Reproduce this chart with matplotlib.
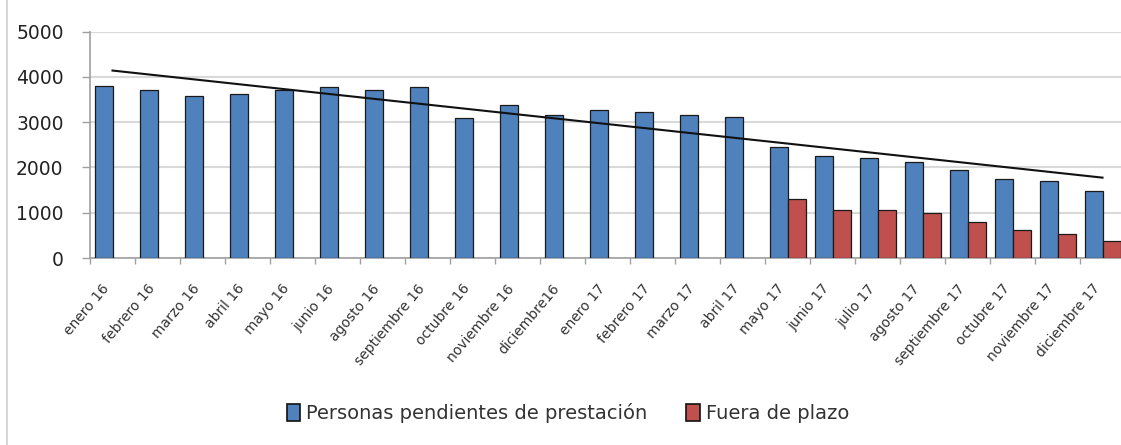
import numpy as np
import matplotlib
matplotlib.use("Agg")
import matplotlib.pyplot as plt
from matplotlib.patches import Patch
from matplotlib.lines import Line2D

categories = ["enero 16", "febrero 16", "marzo 16", "abril 16", "mayo 16", "junio 16",
              "agosto 16", "septiembre 16", "octubre 16", "noviembre 16", "diciembre16",
              "enero 17", "febrero 17", "marzo 17", "abril 17", "mayo 17", "junio 17",
              "julio 17", "agosto 17", "septiembre 17", "octubre 17", "noviembre 17",
              "diciembre 17"]
pendientes = [3803, 3708, 3583, 3620, 3700, 3767, 3708, 3767, 3091, 3385, 3164,
              3275, 3231, 3157, 3120, 2445, 2254, 2210, 2129, 1946, 1747, 1689, 1490]
fuera_plazo = [0, 0, 0, 0, 0, 0, 0, 0, 0, 0, 0,
               0, 0, 0, 0, 1292, 1065, 1065, 991, 793, 609, 521, 374]
yticks = [0, 1000, 2000, 3000, 4000, 5000]

blue = "#4F81BD"
red = "#C0504D"

fig = plt.figure(figsize=(11.21, 4.45), dpi=100)
W, H = 1121, 445
ax = fig.add_axes([90 / W, (H - 258) / H, (1125 - 90) / W, (258 - 31.5) / H])

x = np.arange(len(categories))
w = 0.4
vals_red = np.array(fuera_plazo, dtype=float)
ax.bar(x - 0.18, pendientes, width=w, color=blue, edgecolor="#1a1a1a", linewidth=0.9, zorder=3)
mask = vals_red > 0
ax.bar(x[mask] + 0.22, vals_red[mask], width=w, color=red, edgecolor="#1a1a1a", linewidth=0.9, zorder=3)

# linear trend line of the pending series
coef = np.polyfit(x, pendientes, 1)
ax.plot(x, np.polyval(coef, x), color="#111111", lw=1.5, zorder=4)

ax.set_xlim(-0.5, len(categories) - 0.5)
ax.set_ylim(0, 5000)
ax.set_yticks(yticks)
ax.set_yticklabels([str(v) for v in yticks], fontsize=13.5, color="#222222")
ax.yaxis.grid(True, color="#D9D9D9", lw=1.5, zorder=0)
ax.set_axisbelow(True)

ax.set_xticks(x)
ax.set_xticklabels(categories, rotation=50, ha="right", va="top", fontsize=10, color="#333333")
ax.set_xticks(np.arange(-0.5, len(categories) + 0.5, 1), minor=True)
ax.tick_params(axis="x", which="major", length=0, pad=17)
ax.tick_params(axis="x", which="minor", length=4, color="#A0A0A0", width=1)
ax.tick_params(axis="y", length=6, color="#A0A0A0", width=1, pad=13)

for s in ["top", "right"]:
    ax.spines[s].set_visible(False)
for s in ["left", "bottom"]:
    ax.spines[s].set_color("#A0A0A0")
    ax.spines[s].set_linewidth(1.2)

# chart area border on the left
fig.add_artist(Line2D([7 / W, 7 / W], [0, 1], color="#D0D0D0", lw=1.2))

handles = [Patch(facecolor=blue, edgecolor="#111111", linewidth=1.2, label="Personas pendientes de prestación"),
           Patch(facecolor=red, edgecolor="#111111", linewidth=1.2, label="Fuera de plazo")]
fig.legend(handles=handles, loc="center", bbox_to_anchor=(568 / W, (H - 413) / H), ncol=2,
           frameon=False, fontsize=14, handlelength=0.7, handleheight=1.0,
           handletextpad=0.3, columnspacing=2.0, labelcolor="#333333")

fig.savefig("out.png", dpi=100)
